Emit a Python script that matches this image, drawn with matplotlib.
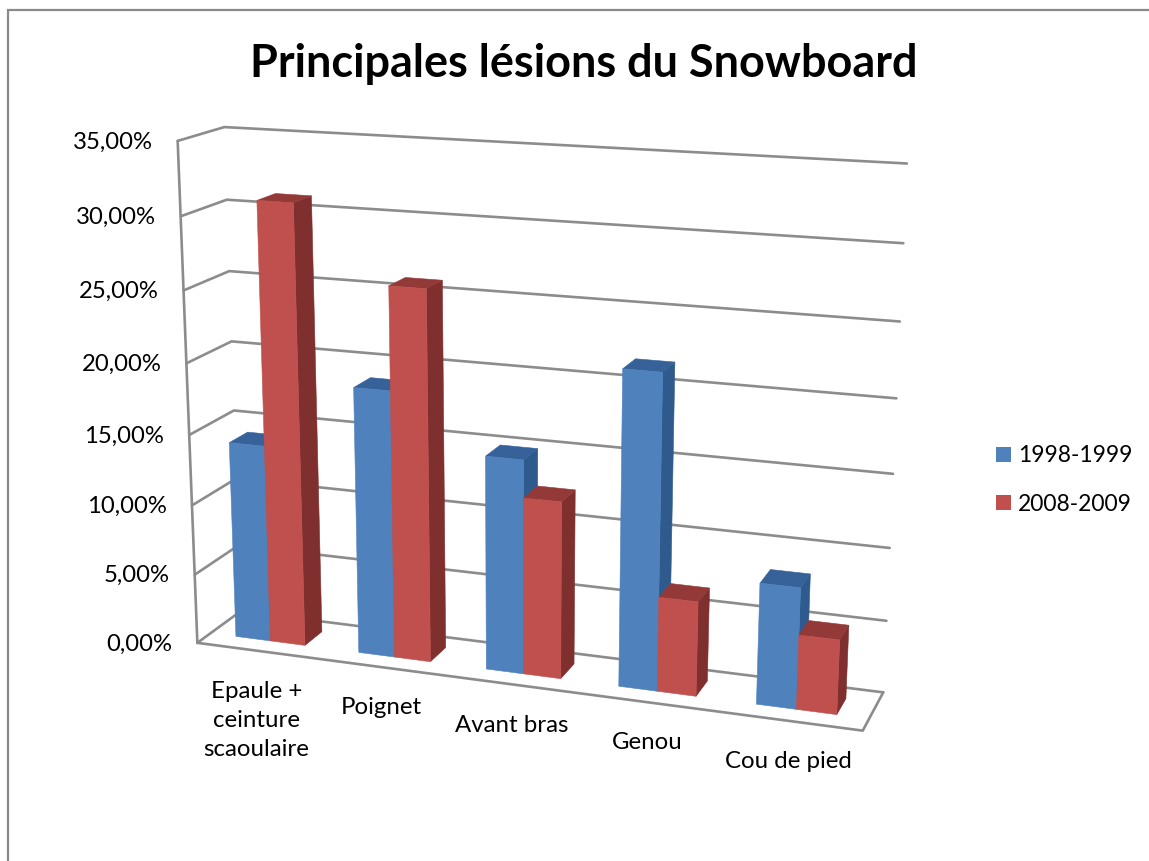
import numpy as np
import matplotlib
matplotlib.use("Agg")
import matplotlib.pyplot as plt
from matplotlib.patches import Polygon, Patch

# --- Data ---
categories = ["Epaule +\nceinture\nscaoulaire", "Poignet", "Avant bras", "Genou", "Cou de pied"]
series_names = ["1998-1999", "2008-2009"]
values_1998 = [14.1, 18.8, 14.95, 21.65, 8.3]
values_2008 = [31.0, 25.9, 12.35, 6.55, 5.1]
value_ticks = [0, 5, 10, 15, 20, 25, 30, 35]

# --- Style ---
blue = ("#4F81BD", "#376299", "#2F5A8E")
red = ("#C0504D", "#933A38", "#7F302E")
grid_col = "#8C8C8C"
font = "Lato"

# --- Camera: box corners (category, value, depth) seen at pixel positions ---
box = [(0, 0, 0), (5, 0, 0), (0, 0, 1), (5, 0, 1), (0, 35, 0), (5, 35, 0), (0, 35, 1), (5, 35, 1)]
pix = [(197, 642), (862, 730), (241, 612), (884, 693), (177, 141), (888, 182), (225, 127), (905, 162)]

rows = []
for (a, b, c), (px, py) in zip(box, pix):
    rows.append([a, b, c, 1, 0, 0, 0, 0, -px * a, -px * b, -px * c, -px])
    rows.append([0, 0, 0, 0, a, b, c, 1, -py * a, -py * b, -py * c, -py])
P = np.linalg.svd(np.array(rows, float))[2][-1].reshape(3, 4)


def project(u, v, w):
    q = P @ np.array([u, v, w, 1.0])
    return q[0] / q[2], q[1] / q[2]


fig = plt.figure(figsize=(11.49, 8.61), dpi=100)
ax = fig.add_axes([0, 0, 1, 1])
ax.set_xlim(0, 1149)
ax.set_ylim(861, 0)
ax.axis("off")

# outer chart border
ax.plot([8, 8, 1149], [861, 10, 10], color="#8A8A8A", lw=1.6, solid_joinstyle="miter")

ax.text(584, 64, "Principales lésions du Snowboard", family=font, fontweight="bold",
        fontsize=32.4, ha="center", va="center", color="black")


def path(pts, **kw):
    xy = [project(*p) for p in pts]
    ax.plot(*zip(*xy), color=grid_col, lw=1.9, solid_capstyle="round", zorder=2, **kw)


# walls
for v in value_ticks:
    path([(0, v, 0), (0, v, 1), (5, v, 1)])
    x, y = project(0, v, 0)
    ax.text(x - 25, y + 1, f"{v},00%", family=font, fontsize=17.2, ha="right", va="center")
path([(0, 0, 0), (0, 35, 0)])
path([(0, 0, 0), (5, 0, 0), (5, 0, 1)])

# bars
gap = 0.21
bar_w = 0.283
w0, w1 = 0.3, 0.72


def bar(u0, u1, val, cols):
    faces = [
        ([(u1, 0, w0), (u1, 0, w1), (u1, val, w1), (u1, val, w0)], cols[2]),
        ([(u0, val, w0), (u1, val, w0), (u1, val, w1), (u0, val, w1)], cols[1]),
        ([(u0, 0, w0), (u1, 0, w0), (u1, val, w0), (u0, val, w0)], cols[0]),
    ]
    for pts, c in faces:
        ax.add_patch(Polygon([project(*p) for p in pts], closed=True, fc=c, ec=c, lw=0.4, zorder=3))


for i in range(len(categories)):
    bar(i + gap, i + gap + bar_w, values_1998[i], blue)
    bar(i + gap + bar_w, i + gap + 2 * bar_w, values_2008[i], red)

# category labels
for i, name in enumerate(categories):
    x, y = project(i + 0.5, 0, 0)
    ax.text(x - 2, y + 30, name, family=font, fontsize=17.3, ha="center", va="top", linespacing=1.48)

handles = [Patch(fc=blue[0], ec="none"), Patch(fc=red[0], ec="none")]
ax.legend(handles, series_names, loc="center left", bbox_to_anchor=(996, 480), bbox_transform=ax.transData,
          frameon=False, prop={"family": font, "size": 16.5}, handlelength=0.65, handleheight=0.65,
          labelspacing=1.2, handletextpad=0.3, borderpad=0, borderaxespad=0)

fig.savefig("out.png", dpi=100, facecolor="white")
